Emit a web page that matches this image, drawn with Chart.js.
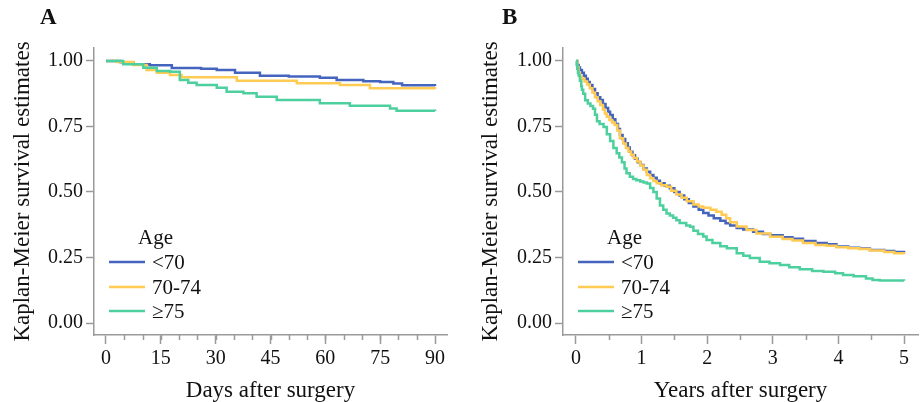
<!DOCTYPE html>
<html lang="en">
<head>
<meta charset="UTF-8">
<title>Kaplan-Meier survival by age</title>
<script src="https://cdn.jsdelivr.net/npm/chart.js"></script>
<style>
    body {
        margin: 0;
        padding: 0;
        background: #ffffff;
        font-family: 'Liberation Serif', 'Times New Roman', serif;
    }
    .figure {
        position: relative;
        width: 920px;
        height: 402px;
        background: #ffffff;
    }
    .panel {
        position: absolute;
        top: 0;
        width: 460px;
        height: 402px;
    }
    .panel-label {
        position: absolute;
        top: 5px;
        font-weight: bold;
        font-size: 23px;
        line-height: 23px;
        color: #111;
    }
</style>
</head>
<body>
<div class="figure">
    <div class="panel" style="left:0">
        <canvas id="chartA" width="460" height="402"></canvas>
    </div>
    <div class="panel" style="left:460px">
        <canvas id="chartB" width="460" height="402"></canvas>
    </div>
    <div class="panel-label" style="left:40px">A</div>
    <div class="panel-label" style="left:502px">B</div>
</div>

<script>
    // ---- data ----
    const groupLabels = ['<70', '70-74', '\u226575'];
    const groupColors = ['#4464be', '#ffcb52', '#4dcf9e'];
    const yTicks = [0, 0.25, 0.5, 0.75, 1];

    // Panel A: first 90 days
    const daysTicks = [0, 15, 30, 45, 60, 75, 90];
    const aDaysLt70 = [0, 4, 7.5, 12, 18, 26, 30.3, 35.3, 42.1, 50, 58.5, 63.1, 70.4, 75, 78.6, 81, 90];
    const aSurvLt70 = [1.0, 0.995, 0.988, 0.984, 0.973, 0.970, 0.966, 0.955, 0.944, 0.941, 0.936, 0.927, 0.923, 0.920, 0.914, 0.907, 0.905];
    const aDays7074 = [0, 3, 7.5, 11.1, 13.9, 17.5, 20.7, 35.8, 52.2, 64, 72.2, 90];
    const aSurv7074 = [1.0, 0.996, 0.985, 0.966, 0.955, 0.947, 0.938, 0.925, 0.915, 0.908, 0.896, 0.893];
    const aDaysGe75 = [0, 4.7, 10.2, 13.9, 17.5, 20.2, 22.5, 24.8, 30.3, 33, 37.6, 41.2, 46.7, 58.5, 66.7, 77.7, 79.5, 90];
    const aSurvGe75 = [1.0, 0.988, 0.974, 0.962, 0.959, 0.927, 0.917, 0.908, 0.898, 0.883, 0.877, 0.864, 0.851, 0.839, 0.829, 0.819, 0.810, 0.809];

    // Panel B: five years
    const yearsTicks = [0, 1, 2, 3, 4, 5];
    const bYearsLt70 = [0, 0.02, 0.04, 0.06, 0.09, 0.12, 0.15, 0.18, 0.21, 0.25, 0.29, 0.33, 0.37, 0.41, 0.45, 0.49, 0.52, 0.56, 0.60, 0.64, 0.67, 0.71, 0.75, 0.79, 0.82, 0.86, 0.90, 0.94, 0.98, 1.03, 1.08, 1.13, 1.18, 1.23, 1.28, 1.35, 1.43, 1.50, 1.58, 1.65, 1.72, 1.79, 1.87, 1.94, 2.02, 2.1, 2.2, 2.28, 2.35, 2.45, 2.55, 2.7, 2.85, 2.96, 3.15, 3.3, 3.46, 3.65, 3.82, 3.97, 4.15, 4.32, 4.48, 4.7, 4.85, 5.0];
    const bSurvLt70 = [1.0, 0.985, 0.975, 0.966, 0.955, 0.944, 0.932, 0.920, 0.908, 0.893, 0.877, 0.862, 0.851, 0.836, 0.821, 0.806, 0.794, 0.778, 0.760, 0.740, 0.718, 0.702, 0.686, 0.670, 0.654, 0.640, 0.627, 0.614, 0.603, 0.590, 0.577, 0.565, 0.554, 0.543, 0.533, 0.524, 0.514, 0.500, 0.487, 0.472, 0.458, 0.445, 0.432, 0.420, 0.410, 0.400, 0.390, 0.381, 0.372, 0.363, 0.357, 0.348, 0.340, 0.335, 0.327, 0.322, 0.313, 0.305, 0.301, 0.292, 0.287, 0.284, 0.279, 0.275, 0.271, 0.268];
    const bYears7074 = [0, 0.02, 0.04, 0.06, 0.09, 0.13, 0.17, 0.21, 0.25, 0.29, 0.33, 0.37, 0.41, 0.44, 0.47, 0.51, 0.55, 0.59, 0.63, 0.67, 0.72, 0.76, 0.80, 0.84, 0.88, 0.93, 0.98, 1.03, 1.08, 1.13, 1.18, 1.23, 1.30, 1.38, 1.45, 1.53, 1.61, 1.69, 1.79, 1.87, 1.94, 2.05, 2.14, 2.22, 2.29, 2.35, 2.45, 2.6, 2.75, 2.96, 3.15, 3.3, 3.46, 3.65, 3.82, 3.97, 4.15, 4.32, 4.48, 4.7, 4.85, 5.0];
    const bSurv7074 = [1.0, 0.975, 0.955, 0.940, 0.932, 0.922, 0.910, 0.896, 0.880, 0.862, 0.846, 0.832, 0.815, 0.800, 0.787, 0.775, 0.765, 0.756, 0.735, 0.705, 0.685, 0.668, 0.655, 0.642, 0.630, 0.616, 0.601, 0.585, 0.565, 0.552, 0.542, 0.533, 0.526, 0.520, 0.505, 0.490, 0.478, 0.465, 0.452, 0.445, 0.440, 0.432, 0.425, 0.413, 0.400, 0.385, 0.368, 0.355, 0.342, 0.329, 0.321, 0.315, 0.305, 0.298, 0.295, 0.289, 0.285, 0.282, 0.277, 0.271, 0.266, 0.262];
    const bYearsGe75 = [0, 0.01, 0.02, 0.03, 0.04, 0.06, 0.08, 0.09, 0.11, 0.14, 0.18, 0.22, 0.26, 0.29, 0.32, 0.36, 0.42, 0.47, 0.52, 0.57, 0.62, 0.66, 0.70, 0.74, 0.77, 0.82, 0.87, 0.92, 0.98, 1.03, 1.08, 1.13, 1.18, 1.23, 1.28, 1.33, 1.38, 1.43, 1.48, 1.53, 1.58, 1.68, 1.74, 1.79, 1.86, 1.94, 1.99, 2.08, 2.2, 2.3, 2.45, 2.55, 2.65, 2.8, 2.95, 3.11, 3.25, 3.41, 3.6, 3.77, 3.95, 4.07, 4.23, 4.42, 4.52, 4.63, 5.0];
    const bSurvGe75 = [1.0, 0.985, 0.970, 0.955, 0.945, 0.925, 0.905, 0.890, 0.875, 0.850, 0.838, 0.828, 0.818, 0.795, 0.770, 0.760, 0.748, 0.720, 0.695, 0.668, 0.648, 0.632, 0.614, 0.590, 0.572, 0.558, 0.550, 0.545, 0.540, 0.536, 0.532, 0.515, 0.500, 0.475, 0.448, 0.432, 0.418, 0.410, 0.402, 0.392, 0.382, 0.372, 0.367, 0.352, 0.340, 0.330, 0.317, 0.305, 0.293, 0.285, 0.266, 0.257, 0.248, 0.234, 0.228, 0.221, 0.213, 0.205, 0.198, 0.196, 0.190, 0.183, 0.178, 0.170, 0.164, 0.162, 0.161];

    const AXIS_GREY = '#9a9a9a';
    const SERIF = "'Liberation Serif', 'Times New Roman', serif";

    function toPoints(xs, ys) {
        return xs.map((x, i) => ({ x: x, y: ys[i] }));
    }

    function makeDatasets(series) {
        // draw order: <70 at the bottom, >=75 on top
        return series.map((s, i) => ({
            label: groupLabels[i],
            data: toPoints(s[0], s[1]),
            borderColor: groupColors[i],
            borderWidth: 2.5,
            pointRadius: 0,
            stepped: 'before',
            fill: false,
            order: series.length - i
        }));
    }

    // Legend drawn inside the plot area, like the original
    const insideLegend = {
        id: 'insideLegend',
        afterDatasetsDraw(chart) {
            const ctx = chart.ctx;
            const left = chart.chartArea.left;
            const top = chart.chartArea.top;
            ctx.save();
            ctx.font = '21px ' + SERIF;
            ctx.fillStyle = '#111';
            ctx.textBaseline = 'middle';
            ctx.textAlign = 'left';
            ctx.fillText('Age', left + 44, top + 190);
            const rows = [214, 239, 263];
            chart.data.datasets.forEach((ds, i) => {
                const y = top + rows[i];
                ctx.strokeStyle = ds.borderColor;
                ctx.lineWidth = 2.5;
                ctx.beginPath();
                ctx.moveTo(left + 15, y);
                ctx.lineTo(left + 51, y);
                ctx.stroke();
                ctx.fillText(ds.label, left + 58, y + 1);
            });
            ctx.restore();
        }
    };

    // Short minor ticks between the labelled ones on the x axis
    const minorTicks = {
        id: 'minorTicks',
        afterDraw(chart, args, opts) {
            const xScale = chart.scales.x;
            const ctx = chart.ctx;
            const y0 = chart.chartArea.bottom;
            ctx.save();
            ctx.strokeStyle = AXIS_GREY;
            ctx.lineWidth = 1.5;
            for (let v = opts.from; v <= opts.to + 1e-9; v += opts.step) {
                const x = Math.round(xScale.getPixelForValue(v)) + 0.5;
                ctx.beginPath();
                ctx.moveTo(x, y0);
                ctx.lineTo(x, y0 + 5);
                ctx.stroke();
            }
            ctx.restore();
        }
    };

    function buildChart(canvasId, series, cfg) {
        const ctx = document.getElementById(canvasId).getContext('2d');
        return new Chart(ctx, {
            type: 'line',
            data: { datasets: makeDatasets(series) },
            plugins: [insideLegend, minorTicks],
            options: {
                responsive: false,
                animation: false,
                devicePixelRatio: 1,
                layout: { padding: { top: 48, right: cfg.padRight, left: 0, bottom: 0 } },
                plugins: {
                    legend: { display: false },
                    tooltip: { enabled: false },
                    minorTicks: cfg.minor
                },
                scales: {
                    x: {
                        type: 'linear',
                        min: cfg.xMin,
                        max: cfg.xMax,
                        afterBuildTicks: scale => { scale.ticks = cfg.xTicks.map(v => ({ value: v })); },
                        afterFit: scale => { scale.height = 67; },
                        ticks: {
                            autoSkip: false,
                            maxRotation: 0,
                            padding: 3,
                            color: '#111',
                            font: { family: SERIF, size: 20 },
                            callback: v => String(v)
                        },
                        grid: { drawOnChartArea: false, drawTicks: true, tickLength: 9, tickColor: AXIS_GREY, tickWidth: 1.5 },
                        border: { display: true, color: AXIS_GREY, width: 1.5 },
                        title: {
                            display: true,
                            text: cfg.xTitle,
                            color: '#111',
                            font: { family: SERIF, size: 23, lineHeight: 1.0 },
                            padding: { top: 0, bottom: 0 }
                        }
                    },
                    y: {
                        type: 'linear',
                        min: -0.0458,
                        max: 1.0496,
                        afterBuildTicks: scale => { scale.ticks = yTicks.map(v => ({ value: v })); },
                        afterFit: scale => { scale.width = cfg.yWidth; },
                        ticks: {
                            padding: 3,
                            color: '#111',
                            font: { family: SERIF, size: 20 },
                            callback: v => Number(v).toFixed(2)
                        },
                        grid: { drawOnChartArea: false, drawTicks: true, tickLength: 8, tickColor: AXIS_GREY, tickWidth: 1.5 },
                        border: { display: true, color: AXIS_GREY, width: 1.5 },
                        title: {
                            display: true,
                            text: 'Kaplan-Meier survival estimates',
                            color: '#111',
                            font: { family: SERIF, size: 23 },
                            padding: { top: cfg.yTitlePad, bottom: 0 }
                        }
                    }
                }
            }
        });
    }

    buildChart('chartA', [[aDaysLt70, aSurvLt70], [aDays7074, aSurv7074], [aDaysGe75, aSurvGe75]], {
        xMin: -3.28, xMax: 93.28, xTicks: daysTicks, xTitle: 'Days after surgery',
        minor: { from: 5, to: 85, step: 5 },
        padRight: 13, yWidth: 94, yTitlePad: 9
    });

    buildChart('chartB', [[bYearsLt70, bSurvLt70], [bYears7074, bSurv7074], [bYearsGe75, bSurvGe75]], {
        xMin: -0.198, xMax: 5.213, xTicks: yearsTicks, xTitle: 'Years after surgery',
        minor: { from: 0.5, to: 4.5, step: 1 },
        padRight: 2, yWidth: 103, yTitlePad: 17
    });
</script>
</body>
</html>
